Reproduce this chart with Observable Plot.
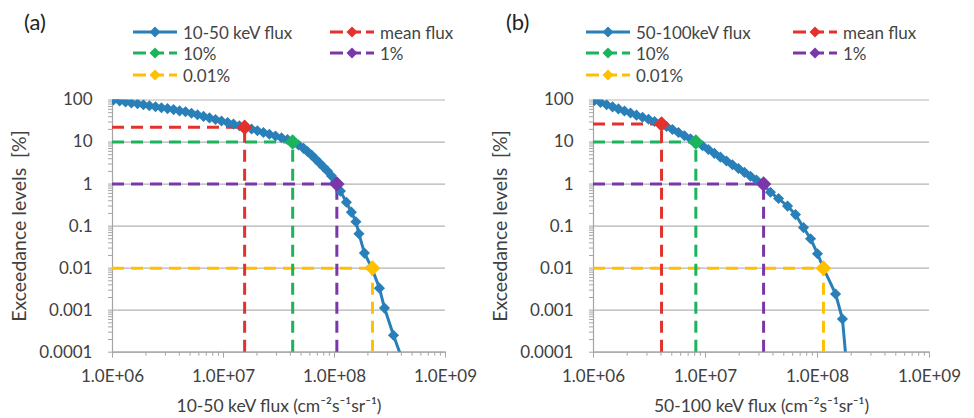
<!DOCTYPE html>
<html><head><meta charset="utf-8">
<script src="https://cdn.jsdelivr.net/npm/d3@7"></script>
<script src="https://cdn.jsdelivr.net/npm/@observablehq/plot@0.6"></script>
<style>
body{margin:0;background:#fff;font-family:Lato,sans-serif;}
#wrap{position:relative;width:974px;height:418px;overflow:hidden;background:#fff;}
.panel{position:absolute;top:0;}
.tag{position:absolute;font-size:22px;color:#222;line-height:1;}
.leg{position:absolute;display:flex;align-items:center;font-size:17px;color:#444;white-space:nowrap;height:20px;}
.leg svg{margin-right:6px;}
</style></head><body><div id="wrap"></div><script>
// ---- data ----
const xTicks = [1e6, 1e7, 1e8, 1e9];
const xTickLabels = ["1.0E+06", "1.0E+07", "1.0E+08", "1.0E+09"];
const yTicks = [1e-4, 1e-3, 1e-2, 1e-1, 1, 10, 100];
const yTickLabels = ["0.0001", "0.001", "0.01", "0.1", "1", "10", "100"];
const xDomain = [1e6, 1e9];
const yDomain = [1e-4, 100];

const specNames = ["mean flux", "10%", "1%", "0.01%"];
const specColors = ["#e3322e", "#1bb35c", "#7b37a8", "#ffc000"];
const curveColor = "#2980b9";

// panel (a): 10-50 keV
const fluxA = [1.02e6,1.16e6,1.31e6,1.48e6,1.68e6,1.90e6,2.15e6,2.44e6,2.76e6,3.13e6,3.55e6,4.02e6,4.55e6,5.15e6,5.83e6,6.61e6,7.48e6,8.47e6,9.59e6,1.09e7,1.23e7,1.39e7,1.58e7,1.79e7,2.02e7,2.29e7,2.59e7,2.94e7,3.33e7,3.77e7,4.27e7,4.74e7,5.26e7,5.71e7,6.21e7,6.75e7,7.33e7,7.96e7,8.65e7,9.40e7,1.02e8,1.13e8,1.28e8,1.42e8,1.56e8,1.66e8,1.86e8,2.15e8,2.54e8,2.82e8,3.40e8,4.37e8];
const exceedA = [100,94.7,90.1,85.3,81.2,76.9,72.8,69.2,65.6,62.4,59.1,55.0,52.4,48.2,44.5,40.7,37.5,34.4,31.6,29.0,26.7,24.4,22.4,20.4,18.6,16.9,15.3,13.9,12.6,11.5,10.1,8.5,7.08,5.94,4.90,3.94,3.16,2.54,2.04,1.55,1.12,0.68,0.37,0.215,0.127,0.066,0.0228,0.0106,0.00334,0.00112,0.000254,0.00004];
const specFluxA = [1.55e7, 4.2e7, 1.05e8, 2.2e8];
const specExceedA = [22.5, 10, 1, 0.01];

// panel (b): 50-100 keV
const fluxB = [1.02e6,1.155e6,1.31e6,1.48e6,1.67e6,1.89e6,2.14e6,2.42e6,2.74e6,3.10e6,3.51e6,3.97e6,4.49e6,5.07e6,5.74e6,6.49e6,7.35e6,8.31e6,9.40e6,1.06e7,1.20e7,1.36e7,1.54e7,1.74e7,1.97e7,2.23e7,2.52e7,2.85e7,3.23e7,3.80e7,4.49e7,5.40e7,6.36e7,7.50e7,8.67e7,1.00e8,1.13e8,1.45e8,1.67e8,1.83e8];
const exceedB = [97,87.2,77.3,68.8,61.4,54.7,49.0,43.6,38.9,34.7,30.9,27.5,23.4,19.9,16.8,14.1,11.9,10.0,8.16,6.63,5.38,4.37,3.55,2.88,2.34,1.90,1.54,1.25,1.03,0.638,0.452,0.299,0.188,0.092,0.050,0.022,0.010,0.00243,0.000617,0.00004];
const specFluxB = [4.05e6, 8.2e6, 3.3e7, 1.13e8];
const specExceedB = [26.8, 10, 1, 0.01];

const xMinor = d3.scaleLog().domain(xDomain).ticks();
const yMinor = d3.scaleLog().domain(yDomain).ticks();

function makePanel(o) {
  const curve = o.flux.map((x, i) => ({x, y: o.exceed[i]}));
  const spec = o.specFlux.map((x, i) => ({x, y: o.specExceed[i], color: specColors[i]}));
  return Plot.plot({
    width: 487, height: 418,
    marginLeft: o.marginLeft, marginRight: o.marginRight, marginTop: 99.5, marginBottom: 66.3,
    style: {fontFamily: "Lato, sans-serif", fontSize: "17px", color: "#404040", background: "transparent", overflow: "visible"},
    x: {type: "log", domain: xDomain},
    y: {type: "log", domain: yDomain},
    color: {type: "identity"},
    marks: [
      Plot.gridY(yTicks, {stroke: "#b3b3b3", strokeOpacity: 1, strokeWidth: 1.2}),
      Plot.ruleX([xDomain[0]], {stroke: "#a6a6a6", strokeWidth: 1.2}),
      Plot.ruleY([yDomain[0]], {stroke: "#a6a6a6", strokeWidth: 1.2}),
      Plot.axisY(yMinor, {tickSize: 4, tickFormat: () => "", label: null, stroke: "#a6a6a6"}),
      Plot.axisY(yTicks, {tickSize: 0, tickPadding: 20, tickFormat: d => yTickLabels[yTicks.indexOf(d)], label: null}),
      Plot.axisY(yTicks, {tickSize: 0, tickFormat: () => "", fontSize: 19.5,
        label: "Exceedance levels  [%]", labelAnchor: "center", labelArrow: "none", labelOffset: 100}),
      Plot.axisX(xMinor, {tickSize: 4, tickFormat: () => "", label: null, stroke: "#a6a6a6"}),
      Plot.axisX(xTicks, {tickSize: 6, tickPadding: 12, stroke: "#a6a6a6", tickFormat: d => xTickLabels[xTicks.indexOf(d)], label: null}),
      Plot.axisX(xTicks, {tickSize: 0, tickFormat: () => "", fontSize: 17.5,
        label: o.xLabel, labelAnchor: "center", labelArrow: "none", labelOffset: 60}),
      Plot.ruleY(spec, {y: "y", x1: xDomain[0], x2: "x", stroke: "color", strokeWidth: 3, strokeDasharray: "12,7"}),
      Plot.ruleX(spec, {x: "x", y1: yDomain[0], y2: "y", stroke: "color", strokeWidth: 3, strokeDasharray: "12,7"}),
      Plot.line(curve, {x: "x", y: "y", stroke: curveColor, strokeWidth: 3, clip: true}),
      Plot.dot(curve, {x: "x", y: "y", symbol: "diamond2", fill: curveColor, stroke: "none", r: 5, clip: true}),
      Plot.dot(spec, {x: "x", y: "y", symbol: "diamond2", fill: "color", stroke: "none", r: 7})
    ]
  });
}

const wrap = document.getElementById("wrap");
function place(node, left) { node.classList.add("panel"); node.style.left = left + "px"; wrap.appendChild(node); }

place(makePanel({flux: fluxA, exceed: exceedA, specFlux: specFluxA, specExceed: specExceedA,
  xLabel: "10-50 keV flux (cm\u207B\u00B2s\u207B\u00B9sr\u207B\u00B9)", marginLeft: 112, marginRight: 42}), 0);
place(makePanel({flux: fluxB, exceed: exceedB, specFlux: specFluxB, specExceed: specExceedB,
  xLabel: "50-100 keV flux (cm\u207B\u00B2s\u207B\u00B9sr\u207B\u00B9)", marginLeft: 106, marginRight: 45}), 487);

// ---- tags and legends (HTML) ----
function tag(text, left) {
  const d = document.createElement("div"); d.className = "tag"; d.textContent = text;
  d.style.left = left + "px"; d.style.top = "11px"; wrap.appendChild(d);
}
tag("(a)", 24); tag("(b)", 506);

function legItem(label, color, dashed, left, cy) {
  const d = document.createElement("div"); d.className = "leg";
  d.style.left = left + "px"; d.style.top = (cy - 10) + "px";
  const ns = "http://www.w3.org/2000/svg";
  const s = document.createElementNS(ns, "svg"); s.setAttribute("width", 44); s.setAttribute("height", 14);
  const ln = document.createElementNS(ns, "line");
  ln.setAttribute("x1", 0); ln.setAttribute("x2", 44); ln.setAttribute("y1", 7); ln.setAttribute("y2", 7);
  ln.setAttribute("stroke", color); ln.setAttribute("stroke-width", 3);
  if (dashed) ln.setAttribute("stroke-dasharray", "13,5");
  const pg = document.createElementNS(ns, "polygon");
  pg.setAttribute("points", "22,1.5 27.5,7 22,12.5 16.5,7"); pg.setAttribute("fill", color);
  s.appendChild(ln); s.appendChild(pg); d.appendChild(s);
  const t = document.createElement("span"); t.textContent = label; d.appendChild(t);
  wrap.appendChild(d);
}
const rows = [32, 53, 75];
function legend(seriesLabel, c1, c2) {
  legItem(seriesLabel, curveColor, false, c1, rows[0]);
  legItem(specNames[0], specColors[0], true, c2, rows[0]);
  legItem(specNames[1], specColors[1], true, c1, rows[1]);
  legItem(specNames[2], specColors[2], true, c2, rows[1]);
  legItem(specNames[3], specColors[3], true, c1, rows[2]);
}
legend("10-50 keV flux", 133, 330);
legend("50-100keV flux", 586, 793);
</script></body></html>
